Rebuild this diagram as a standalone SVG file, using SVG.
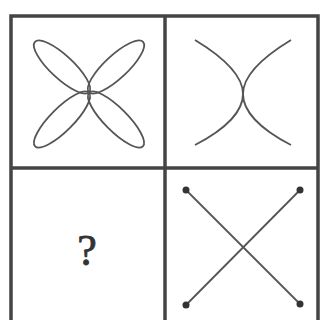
<svg xmlns="http://www.w3.org/2000/svg" width="321" height="320" viewBox="0 0 321 320">
<style>
.frame{fill:none;stroke:#444;stroke-width:3.5}
.shape{fill:none;stroke:#555;stroke-width:1.8}
.dot{fill:#333}
</style>
<rect width="321" height="320" fill="#fff"/>
<g id="grid">
<rect class="frame" x="11" y="16" width="307" height="308"/>
<line class="frame" x1="165" y1="16" x2="165" y2="322"/>
<line class="frame" x1="11" y1="168" x2="318" y2="168"/>
</g>
<g id="cell-flower">
<ellipse class="shape" cx="62" cy="67" rx="37" ry="11.5" transform="rotate(43 62 67)"/>
<ellipse class="shape" cx="116" cy="67" rx="37" ry="11.5" transform="rotate(-43 116 67)"/>
<ellipse class="shape" cx="62" cy="119.5" rx="38" ry="11.5" transform="rotate(-45 62 119.5)"/>
<ellipse class="shape" cx="116" cy="119.5" rx="38" ry="11.5" transform="rotate(45 116 119.5)"/>
</g>
<g id="cell-arcs">
<path class="shape" d="M195,40 C228,60 243,78 243,94 C243,110 228,128 195,145"/>
<path class="shape" d="M291,40 C258,60 243,78 243,94 C243,110 258,128 291,145"/>
</g>
<g id="cell-question">
<text x="87" y="265" font-family="Liberation Serif, serif" font-size="44" text-anchor="middle" fill="#333" stroke="#333" stroke-width="0.8">?</text>
</g>
<g id="cell-cross">
<line class="shape" x1="186" y1="190" x2="300" y2="304"/>
<line class="shape" x1="300" y1="190" x2="186" y2="305"/>
<circle class="dot" cx="186" cy="190" r="3.5"/>
<circle class="dot" cx="300" cy="190" r="3.5"/>
<circle class="dot" cx="186" cy="305" r="3.5"/>
<circle class="dot" cx="300" cy="304" r="3.5"/>
</g>
</svg>
